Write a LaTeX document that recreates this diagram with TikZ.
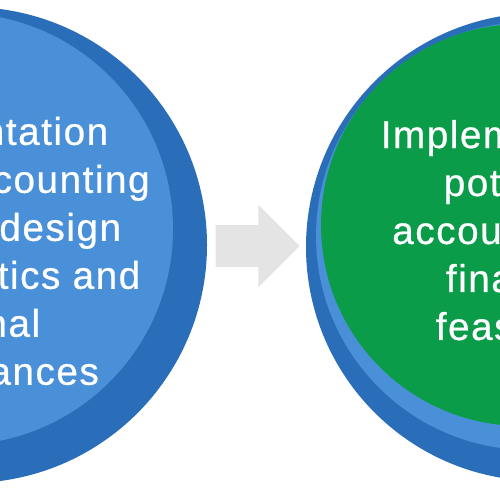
\documentclass[tikz,border=0pt]{standalone}
\usepackage{fontspec}
\newfontfamily\diagfont[LetterSpace=4,FakeBold=0.6]{Liberation Sans}
\usetikzlibrary{shapes.arrows,calc}

\definecolor{ringblue}{HTML}{2A6EB9}
\definecolor{discblue}{HTML}{4A90D9}
\definecolor{stepgreen}{HTML}{0B9C4A}
\definecolor{arrowgray}{HTML}{E4E4E4}

\begin{document}
\begin{tikzpicture}[
  x=0.2mm, y=0.2mm,
  ring/.style={circle, fill=ringblue, inner sep=0pt, minimum size=#1},
  disc/.style={circle, fill=discblue, inner sep=0pt, minimum size=#1},
  active/.style={circle, fill=stepgreen, inner sep=0pt, minimum size=#1},
  steptext/.style={text=white, align=center, inner sep=0pt, font=\diagfont\fontsize{22pt}{27.3pt}\selectfont},
  flow/.style={single arrow, fill=arrowgray, single arrow tip angle=90, single arrow head extend=4.1mm, inner xsep=0pt, inner ysep=4.1mm, minimum height=16.8mm}
]
\useasboundingbox (0,0) rectangle (500,500);
\clip (0,0) rectangle (500,500);

% left step
\node[ring=95.2mm] (leftring) at (-31,255) {};
\node[disc=86.4mm] (leftdisc) at (-43,271) {};
\node[steptext] (lefttext) at (-34,249) {Implementation\\financial accounting\\of system design\\characteristics and\\external\\circumstances};

% right step
\node[ring=93.6mm] (rightring) at (540,253) {};
\node[disc=85.6mm] (rightdisc) at (530,264) {};
\node[active=80.4mm] (rightface) at (522,275) {};
\node[steptext] (righttext) at (523,266) {Implementation\\potential\\accounting for\\financial\\feasibility};

% arrow between the steps
\node[flow, anchor=tail] (next) at ($(leftring.east)+(8,-1)$) {};
\end{tikzpicture}
\end{document}
